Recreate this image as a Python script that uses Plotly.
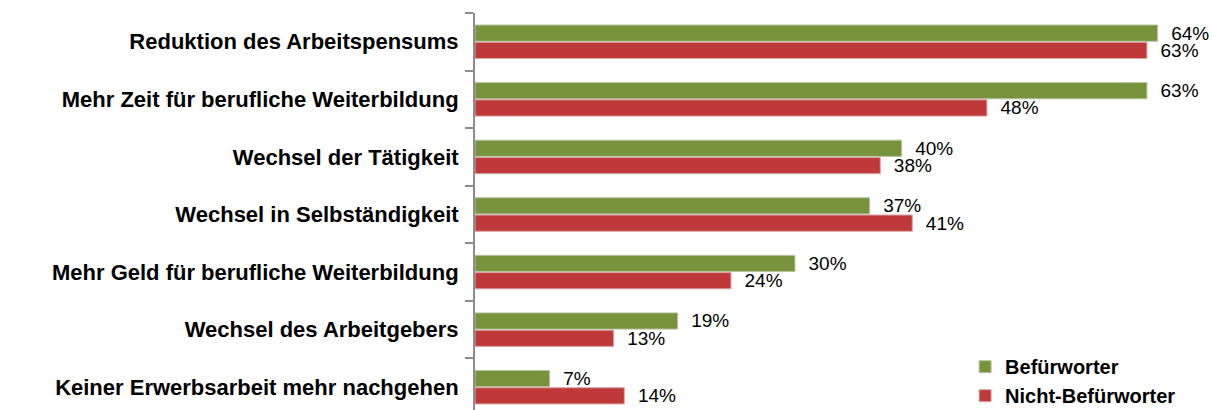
import plotly.graph_objects as go

categories = [
    "Reduktion des Arbeitspensums",
    "Mehr Zeit für berufliche Weiterbildung",
    "Wechsel der Tätigkeit",
    "Wechsel in Selbständigkeit",
    "Mehr Geld für berufliche Weiterbildung",
    "Wechsel des Arbeitgebers",
    "Keiner Erwerbsarbeit mehr nachgehen",
]
befuerworter = [64, 63, 40, 37, 30, 19, 7]
nicht_befuerworter = [63, 48, 38, 41, 24, 13, 14]
series_names = ["Befürworter", "Nicht-Befürworter"]

green = "#77933C"
red = "#C0393A"
FONT = "Liberation Sans, Arial"

fig = go.Figure()
fig.add_trace(go.Bar(
    y=categories, x=befuerworter, orientation="h", name=series_names[0],
    marker=dict(color=green, line=dict(color="#B9C4A4", width=1)),
    text=[f"  {v}%" for v in befuerworter], textposition="outside",
    constraintext="none",
    textfont=dict(size=19, color="#000000", family=FONT),
    cliponaxis=False,
))
fig.add_trace(go.Bar(
    y=categories, x=nicht_befuerworter, orientation="h", name=series_names[1],
    marker=dict(color=red, line=dict(color="#D9A5A5", width=1)),
    text=[f"  {v}%" for v in nicht_befuerworter], textposition="outside",
    constraintext="none",
    textfont=dict(size=19, color="#000000", family=FONT),
    cliponaxis=False,
))

fig.update_layout(
    width=1212, height=410,
    margin=dict(l=475, r=0, t=13, b=0, autoexpand=False),
    paper_bgcolor="white", plot_bgcolor="white",
    barmode="group", bargap=0.40, bargroupgap=0.06,
    font=dict(family=FONT, color="#000000"),
    showlegend=True,
    legend=dict(
        x=0.665, y=-0.013, xanchor="left", yanchor="bottom",
        font=dict(size=20, family=FONT, color="#000000", weight="bold"),
        bgcolor="rgba(0,0,0,0)", tracegroupgap=0,
    ),
)
fig.update_xaxes(
    range=[0, 69.1], showgrid=False, zeroline=False, showticklabels=False,
    showline=False, ticks="",
)
fig.update_yaxes(
    type="category", categoryorder="array", categoryarray=categories,
    range=[6.396, -0.5], showgrid=False, zeroline=False,
    showline=True, linecolor="#8C8C8C", linewidth=2,
    ticks="outside", tickson="boundaries", ticklen=8, tickcolor="#8C8C8C", tickwidth=2,
    tickfont=dict(size=22, family=FONT, color="#000000", weight="bold"),
    ticklabelstandoff=10,
)

fig.write_html(
    "out.html",
    config={"displayModeBar": False},
    post_script="document.body.style.margin='0';document.body.style.overflow='hidden';",
)
